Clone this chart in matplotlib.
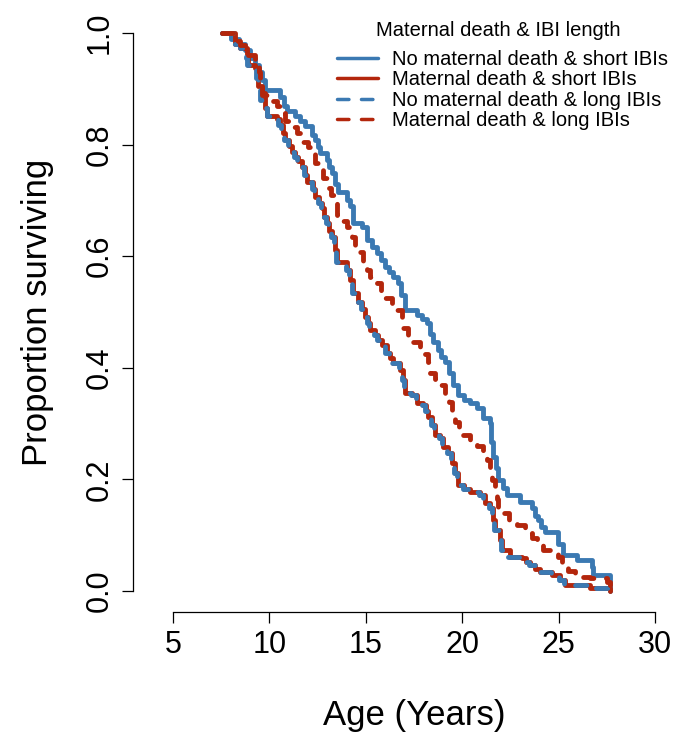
import matplotlib
matplotlib.use('Agg')
import matplotlib.pyplot as plt

plt.rcParams['font.family'] = ['Liberation Sans', 'DejaVu Sans']

start_age = 7.55

# No maternal death & short IBIs (blue solid)
nd_short_age = [8.0, 8.4, 8.73, 9.0, 9.25, 9.45, 9.62, 9.77, 10.55, 10.75, 10.91, 11.33, 11.6, 11.85,
                12.21, 12.37, 12.5, 12.62, 12.99, 13.1, 13.25, 13.4, 13.56, 14.02, 14.2, 14.34, 14.8,
                15.06, 15.3, 15.58, 15.8, 16.0, 16.2, 16.41, 16.67, 16.85, 17.03, 17.66, 17.9, 18.17,
                18.35, 18.49, 18.74, 18.9, 19.11, 19.3, 19.5, 19.78, 20.1, 20.4, 20.77, 21.08, 21.44,
                21.5, 21.6, 21.75, 21.86, 22.1, 22.32, 23.0, 23.62, 23.8, 23.93, 24.1, 24.29, 24.97,
                25.23, 25.95, 26.73, 26.78, 27.67]
nd_short_surv = [0.99, 0.98, 0.97, 0.955, 0.943, 0.93, 0.916, 0.898, 0.885, 0.87, 0.86, 0.851, 0.842, 0.833,
                 0.817, 0.808, 0.795, 0.785, 0.772, 0.76, 0.749, 0.73, 0.715, 0.70, 0.69, 0.659, 0.652,
                 0.629, 0.617, 0.606, 0.593, 0.581, 0.572, 0.563, 0.552, 0.53, 0.504, 0.495, 0.487, 0.48,
                 0.46, 0.446, 0.432, 0.42, 0.41, 0.39, 0.37, 0.351, 0.343, 0.337, 0.328, 0.31, 0.301,
                 0.267, 0.24, 0.22, 0.199, 0.185, 0.172, 0.159, 0.149, 0.135, 0.127, 0.115, 0.106, 0.085,
                 0.065, 0.056, 0.043, 0.029, 0.0]

# Maternal death & short IBIs (red solid)
md_short_age = [8.22, 8.5, 8.84, 8.89, 9.25, 9.36, 9.41, 9.62, 9.77, 9.88, 10.39, 10.55, 10.7, 10.81,
                11.0, 11.17, 11.33, 11.5, 11.69, 11.85, 11.95, 12.26, 12.37, 12.55, 12.73, 12.85, 12.99,
                13.1, 13.25, 13.4, 13.51, 14.02, 14.18, 14.34, 14.6, 14.8, 14.96, 15.1, 15.22, 15.48,
                15.65, 15.84, 16.1, 16.25, 16.41, 16.77, 16.93, 17.03, 17.4, 17.66, 17.97, 18.1, 18.23,
                18.43, 18.59, 18.85, 19.0, 19.26, 19.47, 19.63, 19.78, 20.1, 20.4, 20.92, 21.18, 21.44,
                21.6, 21.7, 21.96, 22.06, 22.48, 23.1, 23.3, 23.52, 23.8, 24.04, 24.66, 25.07, 25.33,
                26.63, 27.67]
md_short_surv = [0.98, 0.973, 0.955, 0.943, 0.937, 0.919, 0.905, 0.892, 0.866, 0.851, 0.845, 0.835, 0.82, 0.808,
                 0.797, 0.787, 0.778, 0.77, 0.76, 0.745, 0.733, 0.72, 0.706, 0.695, 0.686, 0.67, 0.659,
                 0.645, 0.634, 0.611, 0.59, 0.575, 0.557, 0.534, 0.518, 0.505, 0.491, 0.48, 0.468, 0.459,
                 0.45, 0.441, 0.427, 0.418, 0.409, 0.396, 0.378, 0.355, 0.351, 0.337, 0.333, 0.322, 0.312,
                 0.297, 0.28, 0.274, 0.258, 0.247, 0.229, 0.211, 0.19, 0.183, 0.177, 0.172, 0.158, 0.149,
                 0.127, 0.109, 0.091, 0.073, 0.061, 0.059, 0.052, 0.047, 0.04, 0.034, 0.029, 0.02, 0.011,
                 0.005, 0.0]

# No maternal death & long IBIs (blue dashed)
nd_long_age = [8.15, 8.45, 8.8, 8.85, 9.2, 9.3, 9.41, 9.5, 9.6, 9.85, 10.2, 10.45, 10.6, 10.75,
               10.95, 11.1, 11.3, 11.45, 11.62, 11.8, 11.9, 12.2, 12.32, 12.5, 12.68, 12.8, 12.95,
               13.05, 13.2, 13.35, 13.45, 13.95, 14.12, 14.28, 14.55, 14.75, 14.9, 15.05, 15.18, 15.42,
               15.6, 15.8, 16.02, 16.2, 16.36, 16.7, 16.88, 16.98, 17.35, 17.6, 17.92, 18.05, 18.18,
               18.38, 18.52, 18.8, 18.95, 19.2, 19.42, 19.58, 19.72, 20.05, 20.35, 20.85, 21.1, 21.38,
               21.55, 21.66, 21.9, 22.02, 22.4, 23.05, 23.25, 23.45, 23.75, 24.0, 24.6, 25.0, 25.28,
               26.6, 27.67]
nd_long_surv = [0.98, 0.973, 0.955, 0.943, 0.937, 0.919, 0.905, 0.88, 0.866, 0.851, 0.845, 0.835, 0.82, 0.808,
                0.797, 0.787, 0.778, 0.77, 0.76, 0.745, 0.733, 0.72, 0.706, 0.695, 0.686, 0.67, 0.659,
                0.645, 0.634, 0.611, 0.59, 0.575, 0.557, 0.534, 0.518, 0.505, 0.491, 0.48, 0.468, 0.459,
                0.45, 0.441, 0.427, 0.418, 0.409, 0.396, 0.378, 0.355, 0.351, 0.337, 0.333, 0.322, 0.312,
                0.297, 0.28, 0.274, 0.258, 0.247, 0.229, 0.211, 0.19, 0.183, 0.177, 0.172, 0.158, 0.149,
                0.127, 0.109, 0.091, 0.073, 0.061, 0.059, 0.052, 0.047, 0.04, 0.034, 0.029, 0.02, 0.011,
                0.005, 0.0]

# Maternal death & long IBIs (red dashed)
md_long_age = [8.2, 8.48, 8.9, 9.25, 9.45, 9.5, 9.62, 10.13, 10.4, 10.65, 10.81, 11.1, 11.43, 11.69,
               12.0, 12.21, 12.37, 12.6, 12.78, 12.99, 13.2, 13.4, 13.51, 13.8, 14.02, 14.28, 14.45,
               14.6, 14.85, 15.05, 15.22, 15.58, 15.8, 16.0, 16.36, 16.6, 16.88, 16.93, 17.2, 17.45,
               17.81, 18.0, 18.23, 18.33, 18.6, 18.85, 19.11, 19.3, 19.47, 19.63, 19.85, 20.04, 20.4,
               20.75, 21.08, 21.29, 21.45, 21.55, 21.7, 21.78, 21.86, 22.06, 22.45, 22.84, 23.26, 23.6,
               23.88, 24.19, 24.6, 24.97, 25.18, 25.5, 25.85, 26.63, 27.51, 27.67]
md_long_surv = [0.985, 0.978, 0.96, 0.943, 0.93, 0.916, 0.889, 0.878, 0.87, 0.857, 0.842, 0.832, 0.821, 0.805,
                0.795, 0.785, 0.767, 0.755, 0.74, 0.722, 0.71, 0.695, 0.674, 0.663, 0.652, 0.634, 0.62,
                0.608, 0.59, 0.575, 0.563, 0.552, 0.538, 0.525, 0.516, 0.503, 0.491, 0.471, 0.458, 0.446,
                0.437, 0.425, 0.41, 0.391, 0.38, 0.369, 0.351, 0.338, 0.324, 0.303, 0.29, 0.28, 0.271,
                0.26, 0.249, 0.235, 0.215, 0.199, 0.181, 0.165, 0.149, 0.14, 0.128, 0.118, 0.104, 0.095,
                0.086, 0.073, 0.067, 0.061, 0.043, 0.035, 0.025, 0.023, 0.016, 0.0]

labels = ["No maternal death & short IBIs", "Maternal death & short IBIs",
          "No maternal death & long IBIs", "Maternal death & long IBIs"]
legend_title = "Maternal death & IBI length"

x_ticks = [5, 10, 15, 20, 25, 30]
y_ticks = [0.0, 0.2, 0.4, 0.6, 0.8, 1.0]
y_ticklabels = ["0.0", "0.2", "0.4", "0.6", "0.8", "1.0"]

BLUE = "#3B79B2"
RED = "#B3260C"

W, H = 679, 733
fig = plt.figure(figsize=(W / 100, H / 100), dpi=100)
ax = fig.add_axes([173 / W, (H - 591) / H, 482 / W, 558 / H])
ax.set_xlim(5, 30)
ax.set_ylim(0, 1)

lw = 3.5
series = [
    (nd_short_age, nd_short_surv, BLUE, '-'),
    (md_short_age, md_short_surv, RED, '-'),
    (nd_long_age, nd_long_surv, BLUE, '--'),
    (md_long_age, md_long_surv, RED, '--'),
]
handles = []
for (ages, surv, col, ls), lab in zip(series, labels):
    xs = [start_age] + list(ages)
    ys = [1.0] + list(surv)
    line, = ax.step(xs, ys, where='post', color=col, lw=lw, linestyle=ls, label=lab,
                    clip_on=False, solid_capstyle='round', solid_joinstyle='round',
                    dash_capstyle='round', dash_joinstyle='round')
    if ls == '--':
        line.set_dashes((2.3, 2.6))
    handles.append(line)

for s in ['top', 'right']:
    ax.spines[s].set_visible(False)
ax.spines['left'].set_position(('outward', 40 * 0.72))
ax.spines['bottom'].set_position(('outward', 21 * 0.72))
ax.spines['left'].set_bounds(0, 1)
ax.spines['bottom'].set_bounds(5, 30)
for s in ['left', 'bottom']:
    ax.spines[s].set_linewidth(0.9)

ax.set_xticks(x_ticks)
ax.set_xticklabels([str(v) for v in x_ticks])
ax.set_yticks(y_ticks)
ax.set_yticklabels(y_ticklabels, rotation=90, va='center')
ax.tick_params(axis='both', length=8, width=0.9, labelsize=22, colors='black')
ax.tick_params(axis='x', pad=5)
ax.tick_params(axis='y', pad=5)

ax.set_xlabel("Age (Years)", fontsize=25, labelpad=28)
ax.set_ylabel("Proportion surviving", fontsize=25, labelpad=22)

leg = ax.legend(handles=handles, loc='upper left',
                bbox_to_anchor=(337 / W, 1 - 50 / H), bbox_transform=fig.transFigure,
                frameon=False, fontsize=14.5, borderpad=0,
                borderaxespad=0, handlelength=2.05, handletextpad=0.7, labelspacing=0.07)
for lh, (_, _, _, ls) in zip(leg.get_lines(), series):
    lh.set_linewidth(2.5)
    if ls == '--':
        lh.set_dashes((3.3, 3.6))
fig.text(498 / W, 1 - 31 / H, legend_title, fontsize=14.5, ha='center', va='center')

fig.savefig("out.png", dpi=100)
